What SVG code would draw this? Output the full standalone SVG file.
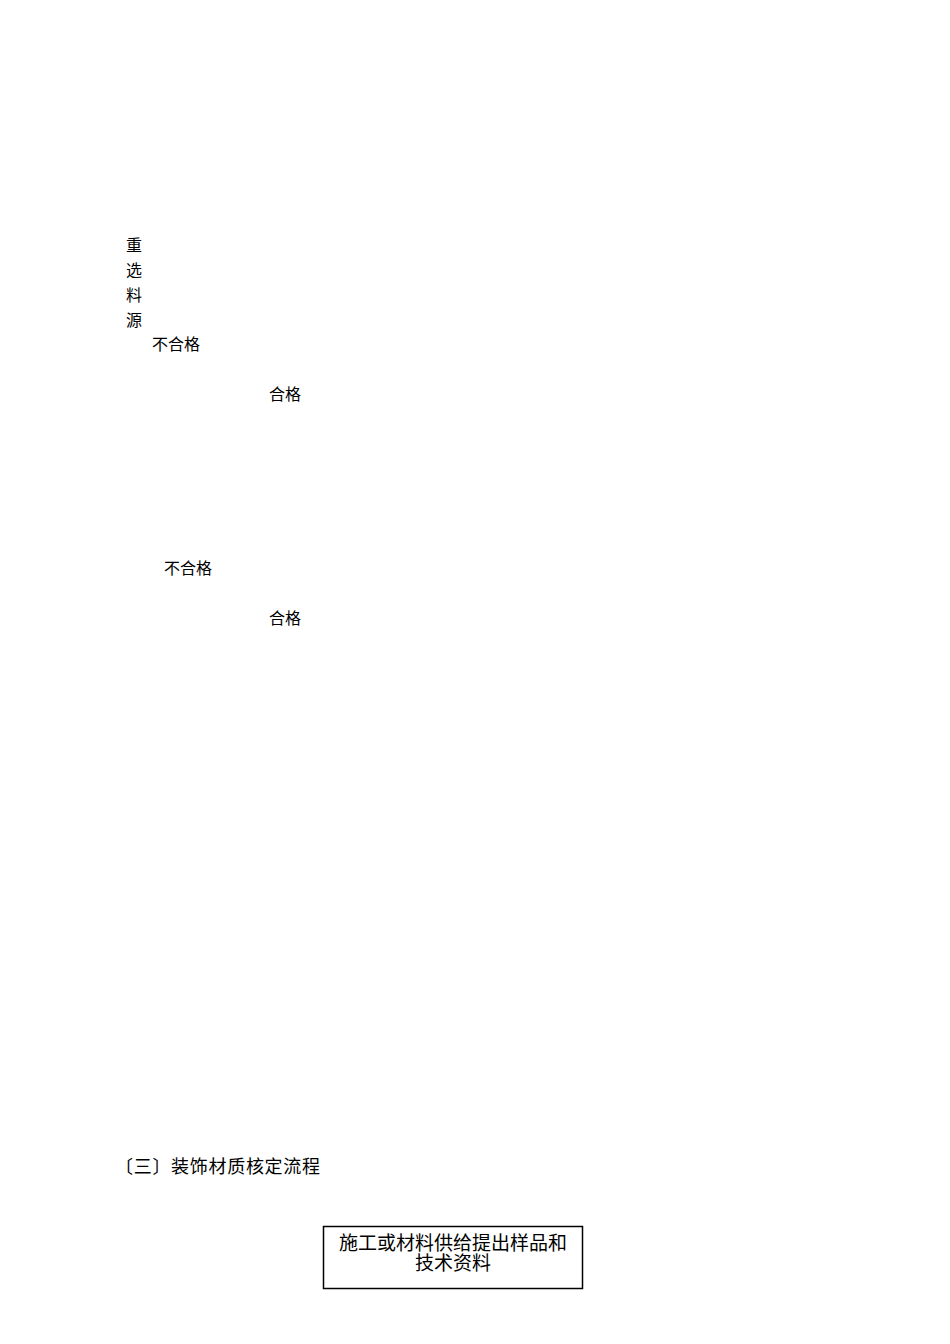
<svg xmlns="http://www.w3.org/2000/svg" width="950" height="1344" viewBox="0 0 950 1344">
<style>
text{font-family:"Liberation Serif","Noto Sans CJK SC",serif;fill:#000}
.s{font-size:16px}
.t{font-size:18px}
.b{font-size:19px}
.box{fill:#fff;stroke:#000;stroke-width:1.5}
</style>
<rect width="950" height="1344" fill="#fff"/>
<g id="label-reselect">
<text class="s" x="126" y="251">重</text>
<text class="s" x="126" y="276">选</text>
<text class="s" x="126" y="301">料</text>
<text class="s" x="126" y="326">源</text>
</g>
<g id="label-fail1"><text class="s" x="152" y="350">不合格</text></g>
<g id="label-pass1"><text class="s" x="269" y="400">合格</text></g>
<g id="label-fail2"><text class="s" x="164" y="574">不合格</text></g>
<g id="label-pass2"><text class="s" x="269" y="624">合格</text></g>
<g id="heading"><text class="t" x="115" y="1173" textLength="205" lengthAdjust="spacing">〔三〕装饰材质核定流程</text></g>
<g id="node-submit">
<rect class="box" x="323.5" y="1226.5" width="259" height="62"/>
<text class="b" x="453" y="1250" text-anchor="middle">施工或材料供给提出样品和</text>
<text class="b" x="453" y="1270" text-anchor="middle">技术资料</text>
</g>
<g id="connectors"></g>
</svg>
